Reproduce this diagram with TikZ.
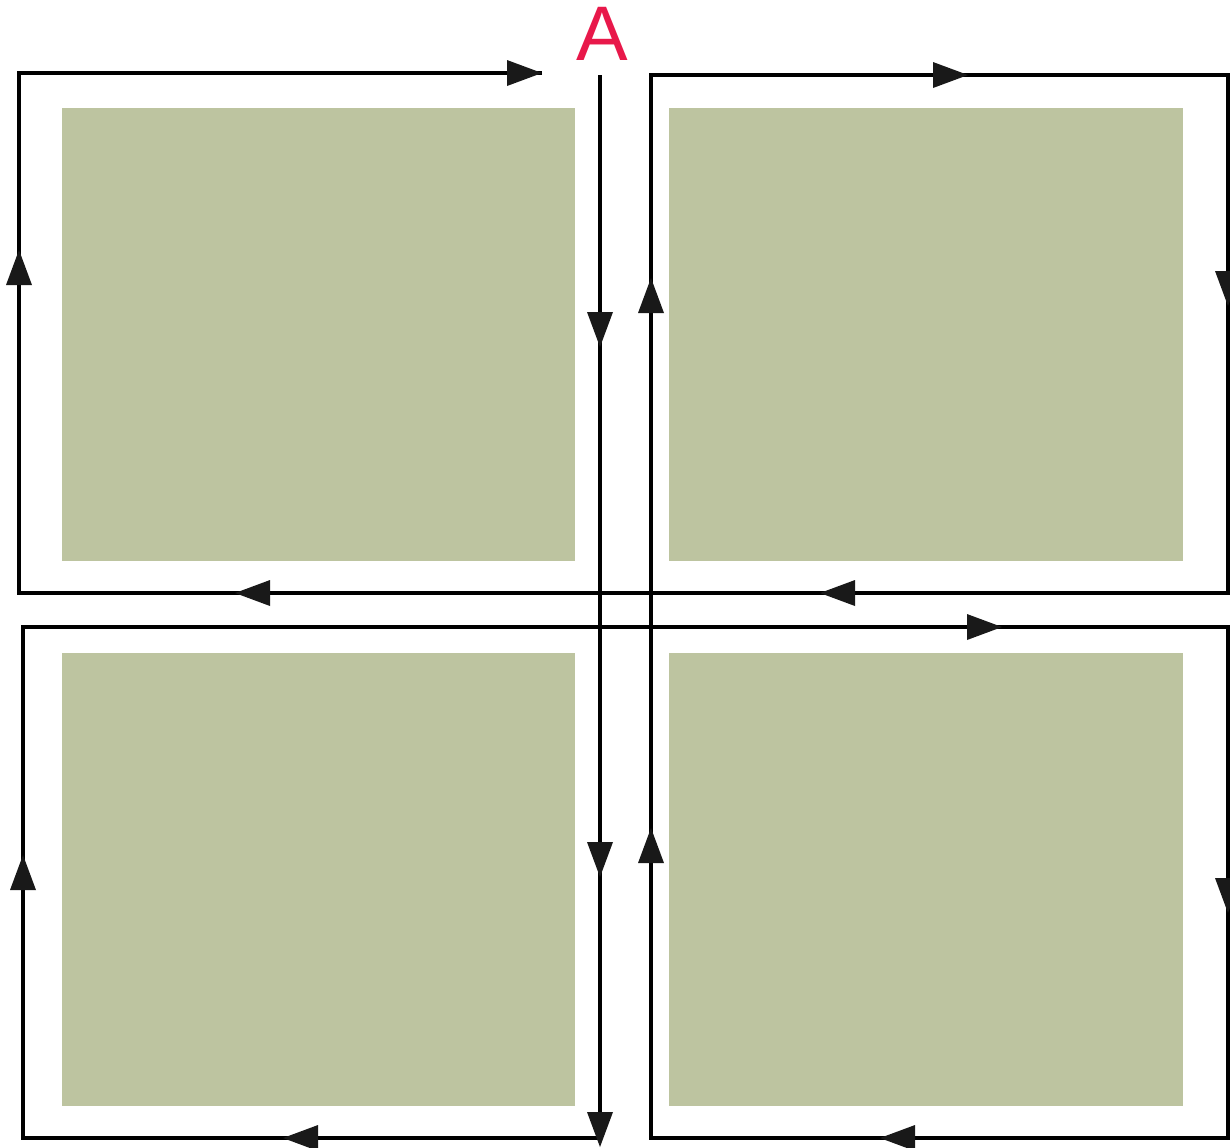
\documentclass[tikz,border=0pt]{standalone}
\usepackage{fontspec}
\newfontfamily\labelfont{Liberation Sans}
\definecolor{field}{RGB}{189,196,160}
\definecolor{labelred}{RGB}{232,24,74}

\begin{document}
\begin{tikzpicture}[x=0.01cm,y=-0.01cm]
\useasboundingbox (0,0) rectangle (1230,1147);
\coordinate (TL) at (19,73);
\coordinate (TLb) at (19,593);
\coordinate (Rb) at (1228,593);
\coordinate (Rt) at (1228,75);
\coordinate (Mt) at (651,75);
\coordinate (Mb) at (651,1138);
\coordinate (Rbb) at (1228,1138);
\coordinate (Rm) at (1228,627);
\coordinate (Lm) at (23,627);
\coordinate (Lb) at (23,1138);
\coordinate (Cb) at (600,1138);
\coordinate (Ct) at (600,75);
\coordinate (Te) at (542,73);
% green fields
\fill[field] (62,108) rectangle (575,561);
\fill[field] (669,108) rectangle (1183,561);
\fill[field] (62,653) rectangle (575,1106);
\fill[field] (669,653) rectangle (1183,1106);
% paths
\draw[line width=1.35pt] (Te)--(TL)--(TLb)--(Rb)--(Rt)--(Mt)--(Mb)--(Rbb)--(Rm)--(Lm)--(Lb)--(Cb);
\draw[line width=1.35pt] (Ct)--(600,1120);
% arrow heads
\foreach \x/\y/\a in {542/73/0, 19/250/90, 235/593/180, 820/593/180,
  600/347/270, 600/877/270, 600/1147/270, 651/278/90, 651/828/90,
  968/75/0, 1228/306/270, 1002/627/0, 23/855/90, 283/1138/180,
  1228/913/270, 880/1138/180}
  \fill[black!90,shift={(\x,\y)},rotate=\a] (0,0) -- (-35,13) -- (-35,-13) -- cycle;
\node[labelred,inner sep=0pt,anchor=base,font=\labelfont\fontsize{22}{22}\selectfont] (A) at (602,60) {A};
\end{tikzpicture}
\end{document}
